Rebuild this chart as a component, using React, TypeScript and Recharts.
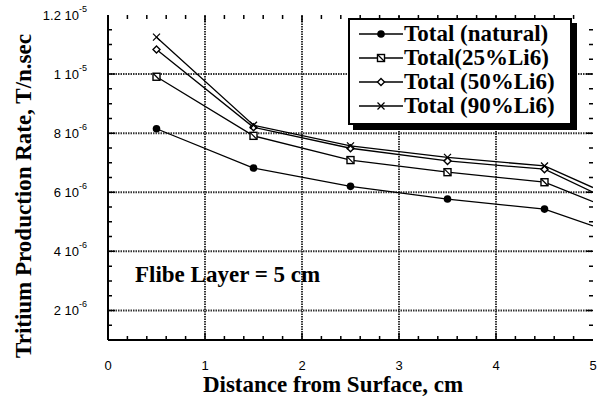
import React from 'react';
import { LineChart, Line, XAxis, YAxis, ReferenceLine, Legend } from 'recharts';

// distance from surface (cm)
const distances = [0.5, 1.5, 2.5, 3.5, 4.5, 5];

// tritium production rate, T/n.sec
const natural = [8.15e-6, 6.82e-6, 6.2e-6, 5.77e-6, 5.43e-6, 4.86e-6];
const li25 = [9.91e-6, 7.91e-6, 7.09e-6, 6.68e-6, 6.34e-6, 5.68e-6];
const li50 = [10.83e-6, 8.2e-6, 7.49e-6, 7.06e-6, 6.78e-6, 6.0e-6];
const li90 = [11.25e-6, 8.27e-6, 7.57e-6, 7.18e-6, 6.89e-6, 6.16e-6];

const seriesKeys = ['natural', 'li25', 'li50', 'li90'];
const seriesNames = ['Total (natural)', 'Total(25%Li6)', 'Total (50%Li6)', 'Total (90%Li6)'];

const xLabels = [0, 1, 2, 3, 4, 5];
const xMinor = [0.2, 0.4, 0.6, 0.8, 1.2, 1.4, 1.6, 1.8, 2.2, 2.4, 2.6, 2.8, 3.2, 3.4, 3.6, 3.8, 4.2, 4.4, 4.6, 4.8];
const yLabels = [2e-6, 4e-6, 6e-6, 8e-6, 1e-5, 1.2e-5];
const yMinor = [1.5e-6, 2.5e-6, 3e-6, 3.5e-6, 4.5e-6, 5e-6, 5.5e-6, 6.5e-6, 7e-6, 7.5e-6, 8.5e-6, 9e-6, 9.5e-6, 1.05e-5, 1.1e-5, 1.15e-5];
const xGrid = [1, 2, 3, 4];
const yGrid = [2e-6, 4e-6, 6e-6, 8e-6, 1e-5];

const data = distances.map((d, i) => ({
    d,
    natural: natural[i],
    li25: li25[i],
    li50: li50[i],
    li90: li90[i],
}));

const SERIF = '"Liberation Serif", "Times New Roman", serif';
const SANS = '"Liberation Sans", Arial, sans-serif';

function Marker({ kind, cx, cy }: { kind: string; cx: number; cy: number }) {
    if (kind === 'natural') {
        return <circle cx={cx} cy={cy} r={3.8} fill="#000" />;
    }
    if (kind === 'li25') {
        return (
            <g>
                <rect x={cx - 3.5} y={cy - 3.5} width={7} height={7} fill="#fff" stroke="#000" strokeWidth={1.4} />
                <line x1={cx - 3.5} y1={cy - 3.5} x2={cx + 3.5} y2={cy + 3.5} stroke="#000" strokeWidth={1.2} />
            </g>
        );
    }
    if (kind === 'li50') {
        return <path d={`M${cx},${cy - 3.5}L${cx + 3.5},${cy}L${cx},${cy + 3.5}L${cx - 3.5},${cy}Z`} fill="#fff" stroke="#000" strokeWidth={1.4} />;
    }
    return (
        <g stroke="#000" strokeWidth={1.3}>
            <line x1={cx - 3.5} y1={cy - 3.5} x2={cx + 3.5} y2={cy + 3.5} />
            <line x1={cx - 3.5} y1={cy + 3.5} x2={cx + 3.5} y2={cy - 3.5} />
        </g>
    );
}

// no marker at the x=5 end of each line
const makeDot = (kind: string) => (props: any) => {
    const { cx, cy, index } = props;
    if (index === distances.length - 1 || cx == null) return <g key={`e-${kind}-${index}`} />;
    return <g key={`m-${kind}-${index}`}><Marker kind={kind} cx={cx} cy={cy} /></g>;
};

// inward tick marks drawn at both ends of a reference line
const tickShape = (len: number) => (p: any) => {
    const { x1, y1, x2, y2 } = p;
    if ([x1, y1, x2, y2].some(v => v == null || isNaN(v))) return <g />;
    if (Math.abs(x1 - x2) < 0.5) {
        const top = Math.min(y1, y2);
        const bot = Math.max(y1, y2);
        return <path d={`M${x1},${top}V${top + len}M${x1},${bot}V${bot - len}`} stroke="#000" strokeWidth={1.5} fill="none" />;
    }
    const l = Math.min(x1, x2);
    const r = Math.max(x1, x2);
    return <path d={`M${l},${y1}H${l + len}M${r},${y1}H${r - len}`} stroke="#000" strokeWidth={1.5} fill="none" />;
};

function BottomTick({ x, y, payload }: any) {
    return (
        <text x={x} y={y + 25} textAnchor="middle" dominantBaseline="central" fontFamily={SANS} fontSize={13} fill="#000">
            {payload.value}
        </text>
    );
}

function LeftTick({ x, y, payload }: any) {
    const v = payload.value;
    const exp = Math.floor(Math.log10(v) + 1e-9);
    const mant = Math.round((v / Math.pow(10, exp)) * 10) / 10;
    return (
        <text x={x - 21} y={y} textAnchor="end" dominantBaseline="central" fontFamily={SANS} fontSize={13} fill="#000">
            {`${mant} 10`}
            <tspan dy={-6} fontSize={9}>{exp}</tspan>
        </text>
    );
}

function LegendBox({ payload }: any) {
    const items = [...(payload || [])].sort(
        (a: any, b: any) => seriesKeys.indexOf(a.dataKey) - seriesKeys.indexOf(b.dataKey)
    );
    return (
        <div
            style={{
                background: '#fff',
                border: '2px solid #000',
                boxShadow: '5px 5px 0 #000',
                padding: '2px 6px 5px 8px',
                width: 206,
                boxSizing: 'content-box',
            }}
        >
            {items.map((entry: any) => (
                <div key={entry.dataKey} style={{ display: 'flex', alignItems: 'center', height: 24 }}>
                    <svg width={46} height={20} style={{ flex: 'none' }}>
                        <line x1={1} y1={10} x2={45} y2={10} stroke="#000" strokeWidth={1.3} />
                        <Marker kind={entry.dataKey} cx={23} cy={10} />
                    </svg>
                    <span style={{ fontFamily: SERIF, fontWeight: 'bold', fontSize: 23, lineHeight: '24px', color: '#000', whiteSpace: 'nowrap' }}>
                        {entry.value}
                    </span>
                </div>
            ))}
        </div>
    );
}

export default function App() {
    const gridStroke = { stroke: '#333', strokeWidth: 2, strokeDasharray: '1.5 1' };
    return (
        <div style={{ position: 'absolute', left: 0, top: 0, width: 603, height: 400, background: '#fff' }}>
            <LineChart width={603} height={400} data={data} margin={{ top: 15, right: 10, left: 0, bottom: 0 }}>
                <XAxis
                    xAxisId="b"
                    dataKey="d"
                    type="number"
                    domain={[0, 5]}
                    ticks={xLabels}
                    interval={0}
                    height={60}
                    tickSize={0}
                    tickMargin={0}
                    tickLine={false}
                    axisLine={{ stroke: '#000', strokeWidth: 2 }}
                    tick={(p: any) => <BottomTick {...p} />}
                    allowDataOverflow
                />
                <XAxis
                    xAxisId="t"
                    orientation="top"
                    dataKey="d"
                    type="number"
                    domain={[0, 5]}
                    height={0}
                    tick={false}
                    tickLine={false}
                    axisLine={{ stroke: '#000', strokeWidth: 2 }}
                    allowDataOverflow
                />
                <YAxis
                    yAxisId="l"
                    type="number"
                    domain={[1e-6, 1.2e-5]}
                    ticks={yLabels}
                    interval={0}
                    width={108}
                    tickSize={0}
                    tickMargin={0}
                    tickLine={false}
                    axisLine={{ stroke: '#000', strokeWidth: 2 }}
                    tick={(p: any) => <LeftTick {...p} />}
                    allowDataOverflow
                />
                <YAxis
                    yAxisId="r"
                    orientation="right"
                    type="number"
                    domain={[1e-6, 1.2e-5]}
                    width={0}
                    tick={false}
                    tickLine={false}
                    axisLine={{ stroke: '#000', strokeWidth: 2 }}
                    allowDataOverflow
                />
                {xGrid.map(v => (
                    <ReferenceLine key={`gx${v}`} xAxisId="b" yAxisId="l" x={v} {...gridStroke} />
                ))}
                {yGrid.map(v => (
                    <ReferenceLine key={`gy${v}`} xAxisId="b" yAxisId="l" y={v} {...gridStroke} />
                ))}
                {xMinor.map(v => (
                    <ReferenceLine key={`tx${v}`} xAxisId="b" yAxisId="l" x={v} shape={tickShape(4)} />
                ))}
                {xGrid.map(v => (
                    <ReferenceLine key={`Tx${v}`} xAxisId="b" yAxisId="l" x={v} shape={tickShape(7)} />
                ))}
                {yMinor.map(v => (
                    <ReferenceLine key={`ty${v}`} xAxisId="b" yAxisId="l" y={v} shape={tickShape(4)} />
                ))}
                {yGrid.map(v => (
                    <ReferenceLine key={`Ty${v}`} xAxisId="b" yAxisId="l" y={v} shape={tickShape(7)} />
                ))}
                {seriesKeys.map((k, i) => (
                    <Line
                        key={k}
                        xAxisId="b"
                        yAxisId="l"
                        type="linear"
                        dataKey={k}
                        name={seriesNames[i]}
                        stroke="#000"
                        strokeWidth={1.3}
                        dot={makeDot(k)}
                        activeDot={false}
                        isAnimationActive={false}
                    />
                ))}
                <Legend
                    layout="vertical"
                    align="center"
                    verticalAlign="middle"
                    content={<LegendBox />}
                    wrapperStyle={{ left: 348, top: 18, width: 'auto', height: 'auto' }}
                />
            </LineChart>
            <svg width={603} height={400} style={{ position: 'absolute', left: 0, top: 0, pointerEvents: 'none' }}>
                <text x={333} y={392} textAnchor="middle" fontFamily={SERIF} fontWeight="bold" fontSize={23} fill="#000">
                    Distance from Surface, cm
                </text>
                <text
                    x={0}
                    y={0}
                    transform="translate(31,196) rotate(-90)"
                    textAnchor="middle"
                    fontFamily={SERIF}
                    fontWeight="bold"
                    fontSize={23}
                    fill="#000"
                >
                    Tritium Production Rate, T/n.sec
                </text>
                <text x={135} y={282} fontFamily={SERIF} fontWeight="bold" fontSize={23} fill="#000">
                    Flibe Layer = 5 cm
                </text>
            </svg>
        </div>
    );
}
